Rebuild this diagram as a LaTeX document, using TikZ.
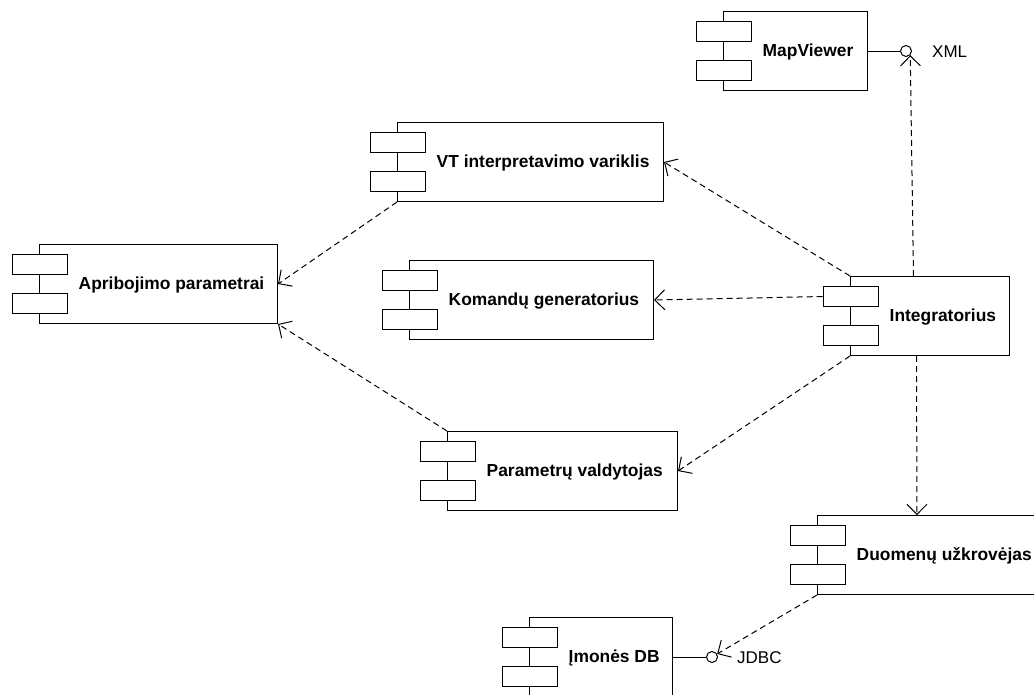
\documentclass[tikz,border=0pt]{standalone}
\usepackage{fontspec}
\setmainfont{Liberation Sans}
\usetikzlibrary{arrows.meta}

% UML component: name, left, top, width, label
\newcommand\umlcomponent[5]{%
  \node[compbox, minimum width=#4pt] (#1) at (#2,#3) {};
  \node[part] (#1-a) at ([shift={(-27.5,10)}]#1.north west) {};
  \node[part] (#1-b) at ([shift={(-27.5,49)}]#1.north west) {};
  \node[complabel] (#1-label) at ([shift={(39.5,45)}]#1.north west) {#5};
}

\begin{document}
\begin{tikzpicture}[x=1pt,y=-1pt,
  compbox/.style={draw=black, line width=1pt, inner sep=0pt, anchor=north west, minimum height=79pt},
  part/.style={draw=black, fill=white, line width=1pt, inner sep=0pt, anchor=north west,
               minimum width=55pt, minimum height=20pt},
  complabel/.style={anchor=base west, inner sep=0pt, font=\fontsize{17.4}{20}\selectfont\bfseries},
  iface/.style={circle, draw=black, line width=1pt, fill=white, minimum size=11pt, inner sep=0pt},
  ifacelabel/.style={anchor=base west, inner sep=0pt, font=\fontsize{17}{20}\selectfont},
  dep/.style={draw=black, line width=1pt, dash pattern=on 6pt off 4pt,
              -{Straight Barb[length=10pt,width=20pt]}},
  link/.style={draw=black, line width=1pt}]

\useasboundingbox (0,0) rectangle (1034,694);
\clip (0,0) rectangle (1034,694);

% components
\umlcomponent{mapv}{723}{11}{144}{MapViewer}
\umlcomponent{vt}{397}{122}{266}{VT interpretavimo variklis}
\umlcomponent{apri}{39}{244}{238}{Apribojimo parametrai}
\umlcomponent{kom}{409}{260}{244}{Komandų generatorius}
\umlcomponent{intg}{850}{276}{159}{Integratorius}
\umlcomponent{param}{447}{431}{230}{Parametrų valdytojas}
\umlcomponent{duom}{817}{515}{230}{Duomenų užkrovėjas}
\umlcomponent{imon}{529}{617}{143}{Įmonės DB}

% provided interfaces
\node[iface] (xml) at (906,51) {};
\node[ifacelabel] (xml-label) at (932,57) {XML};
\draw[link] (mapv.east) -- (xml);

\node[iface] (jdbc) at (712,657) {};
\node[ifacelabel] (jdbc-label) at (737,663) {JDBC};
\draw[link] (imon.east) -- (jdbc);

% dependencies
\draw[dep] (vt.south west) -- (apri.east);
\draw[dep] (param.north west) -- (apri.south east);
\draw[dep] (intg.north west) -- (vt.east);
\draw[dep] (intg-a.west) -- (kom.east);
\draw[dep] (intg.south west) -- (param.east);
\draw[dep] ([xshift=-16.5pt]intg.north) -- (xml.-45);
\draw[dep] ([xshift=-13.5pt]intg.south) -- ([xshift=100pt]duom.north west);
\draw[dep] (duom.south west) -- (jdbc);

\end{tikzpicture}
\end{document}
